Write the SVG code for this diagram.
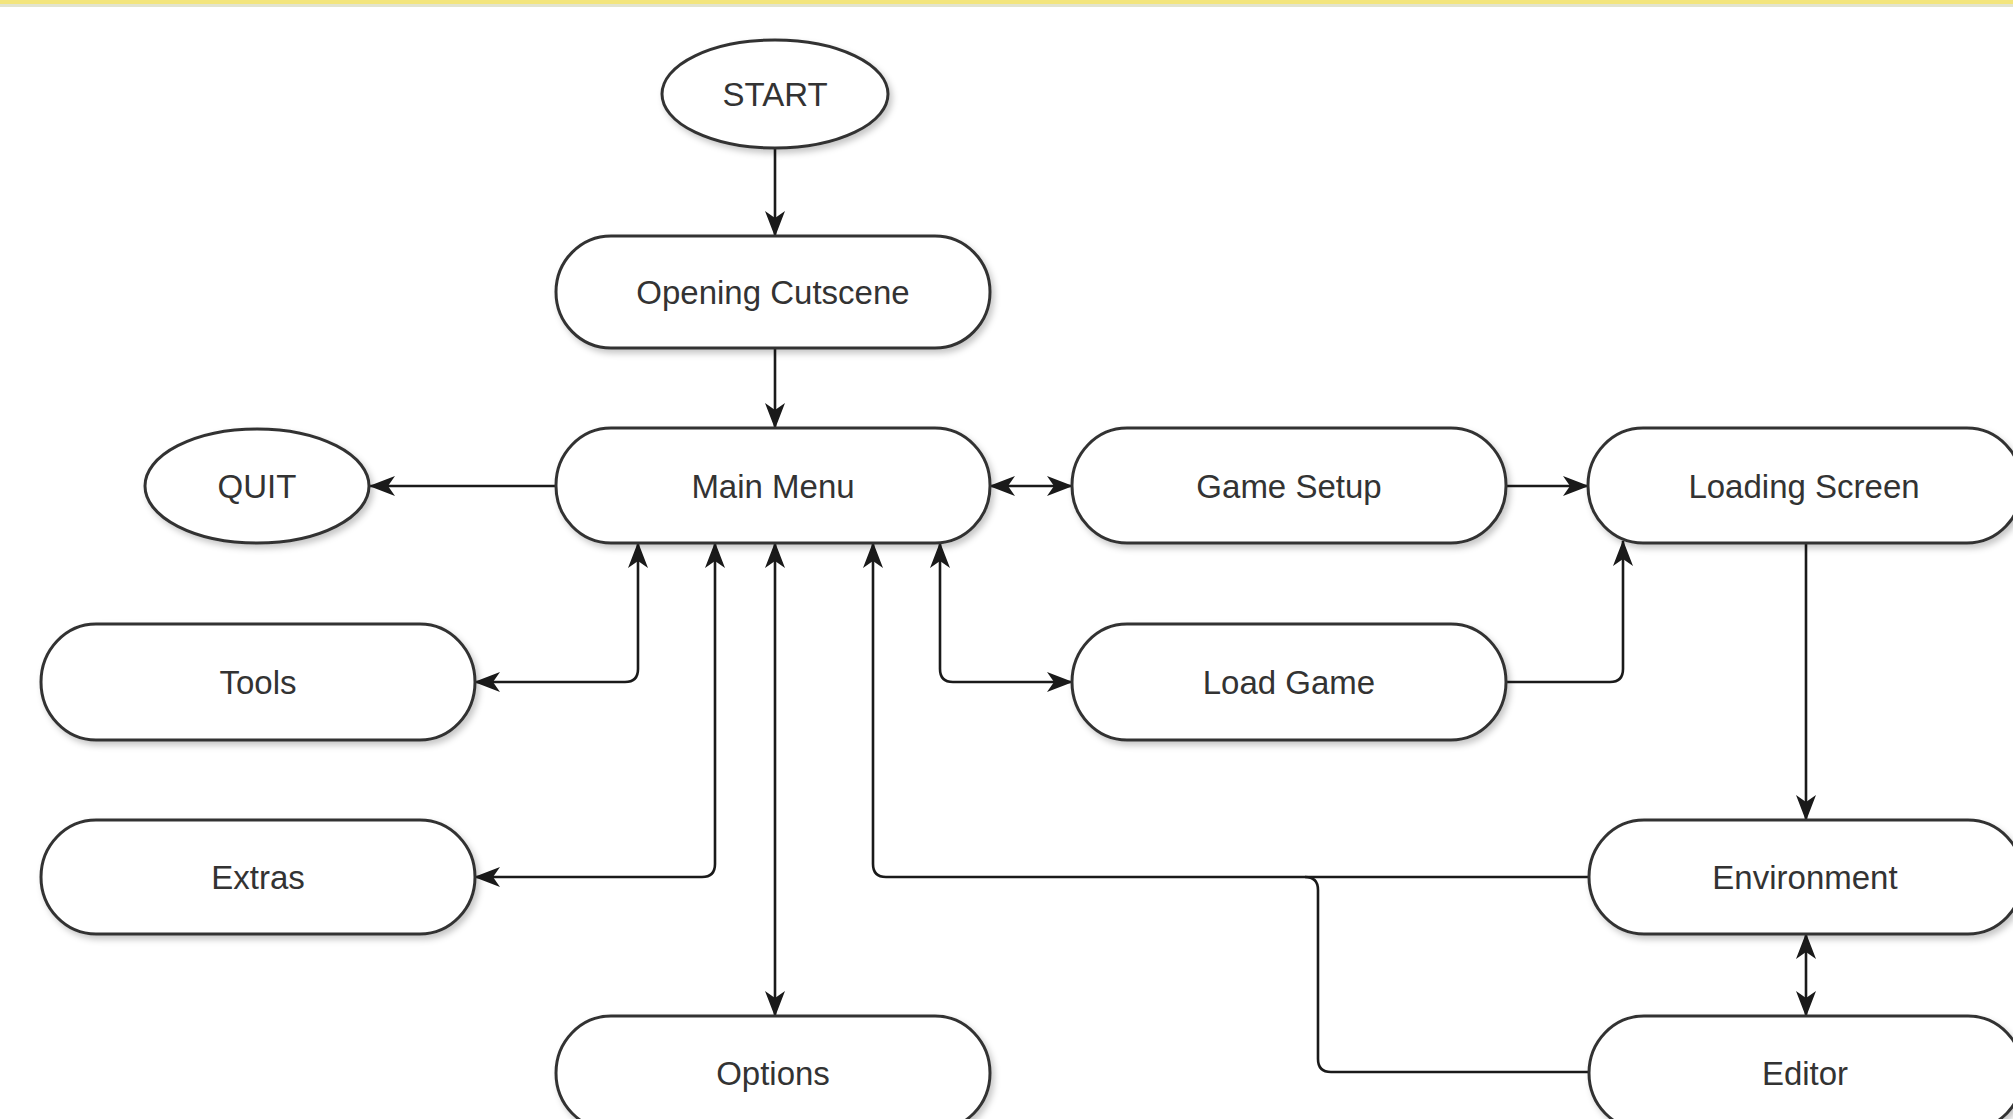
<svg xmlns="http://www.w3.org/2000/svg" width="2013" height="1119" viewBox="0 0 2013 1119">
<defs>
<filter id="sh" x="-10%" y="-20%" width="130%" height="150%">
<feDropShadow dx="3" dy="4" stdDeviation="3" flood-color="#000" flood-opacity="0.22"/>
</filter>
<marker id="ar" viewBox="0 0 26 20" refX="25" refY="10" markerWidth="26" markerHeight="20" markerUnits="userSpaceOnUse" orient="auto-start-reverse">
<path d="M0,0 L26,10 L0,20 L7,10 Z" fill="#1a1a1a"/>
</marker>
</defs>
<style>
.n{fill:#fff;stroke:#333;stroke-width:3;filter:url(#sh)}
.t{font-family:"Liberation Sans",Arial,sans-serif;font-size:33px;fill:#333;text-anchor:middle}
.c{fill:none;stroke:#1a1a1a;stroke-width:2.6}
.e{marker-end:url(#ar)}
.b{marker-start:url(#ar);marker-end:url(#ar)}
</style>
<rect x="0" y="0" width="2013" height="1119" fill="#fff"/>
<rect x="0" y="0" width="2013" height="4" fill="#f3e57c"/>
<rect x="0" y="4" width="2013" height="3" fill="#e2e4cf"/>
<g id="connectors">
<path class="c e" d="M775,148 L775,236"/>
<path class="c e" d="M775,348 L775,428"/>
<path class="c e" d="M556,486 L370,486"/>
<path class="c b" d="M990,486 L1072,486"/>
<path class="c e" d="M1506,486 L1588,486"/>
<path class="c b" d="M475,682 L625,682 Q638,682 638,669 L638,543"/>
<path class="c b" d="M475,877 L702,877 Q715,877 715,864 L715,543"/>
<path class="c b" d="M775,543 L775,1016"/>
<path class="c e" d="M1589,877 L886,877 Q873,877 873,864 L873,543"/>
<path class="c" d="M1589,1072 L1331,1072 Q1318,1072 1318,1059 L1318,890 Q1318,877 1305,877"/>
<path class="c b" d="M940,543 L940,669 Q940,682 953,682 L1072,682"/>
<path class="c e" d="M1506,682 L1610,682 Q1623,682 1623,669 L1623,541"/>
<path class="c e" d="M1806,543 L1806,820"/>
<path class="c b" d="M1806,934 L1806,1016"/>
</g>
<g id="start"><ellipse class="n" cx="775" cy="94" rx="113" ry="54"/><text class="t" x="775" y="106">START</text></g>
<g id="opening"><rect class="n" x="556" y="236" width="434" height="112" rx="55" ry="56"/><text class="t" x="773" y="304">Opening Cutscene</text></g>
<g id="mainmenu"><rect class="n" x="556" y="428" width="434" height="115" rx="55" ry="57"/><text class="t" x="773" y="498">Main Menu</text></g>
<g id="quit"><ellipse class="n" cx="257" cy="486" rx="112" ry="57"/><text class="t" x="257" y="498">QUIT</text></g>
<g id="gamesetup"><rect class="n" x="1072" y="428" width="434" height="115" rx="55" ry="57"/><text class="t" x="1289" y="498">Game Setup</text></g>
<g id="loading"><rect class="n" x="1588" y="428" width="434" height="115" rx="55" ry="57"/><text class="t" x="1804" y="498">Loading Screen</text></g>
<g id="tools"><rect class="n" x="41" y="624" width="434" height="116" rx="55" ry="58"/><text class="t" x="258" y="694">Tools</text></g>
<g id="loadgame"><rect class="n" x="1072" y="624" width="434" height="116" rx="55" ry="58"/><text class="t" x="1289" y="694">Load Game</text></g>
<g id="extras"><rect class="n" x="41" y="820" width="434" height="114" rx="55" ry="57"/><text class="t" x="258" y="889">Extras</text></g>
<g id="environment"><rect class="n" x="1589" y="820" width="434" height="114" rx="55" ry="57"/><text class="t" x="1805" y="889">Environment</text></g>
<g id="options"><rect class="n" x="556" y="1016" width="434" height="114" rx="55" ry="57"/><text class="t" x="773" y="1085">Options</text></g>
<g id="editor"><rect class="n" x="1589" y="1016" width="434" height="114" rx="55" ry="57"/><text class="t" x="1805" y="1085">Editor</text></g>
</svg>
